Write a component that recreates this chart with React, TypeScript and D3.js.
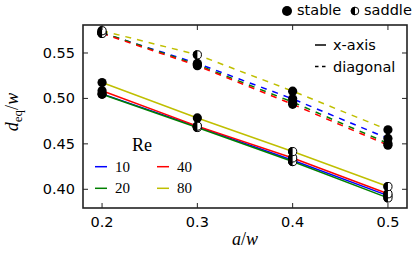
import React, { useRef, useEffect } from 'react';
import * as d3 from 'd3';

const AW = [0.2, 0.3, 0.4, 0.5];
const RE_LABELS = ['10', '20', '40', '80'];
const RE_COLORS = ['#0000ff', '#008000', '#ff0000', '#bfbf00'];

// x-axis (solid) equilibrium positions, per Re
const XAXIS_10 = [0.505, 0.469, 0.432, 0.393];
const XAXIS_20 = [0.5045, 0.468, 0.4305, 0.3905];
const XAXIS_40 = [0.5085, 0.4695, 0.4345, 0.395];
const XAXIS_80 = [0.5175, 0.4785, 0.4415, 0.403];

// diagonal (dashed) equilibrium positions, per Re
const DIAG_10 = [0.572, 0.5385, 0.4995, 0.456];
const DIAG_20 = [0.5725, 0.537, 0.496, 0.4505];
const DIAG_40 = [0.5715, 0.536, 0.4935, 0.4485];
const DIAG_80 = [0.5745, 0.548, 0.508, 0.4655];

// 1 = stable, 0 = saddle
const XAXIS_STABLE = [
  [1, 0, 0, 0],
  [1, 0, 0, 0],
  [1, 0, 0, 0],
  [1, 1, 0, 0],
];
const DIAG_STABLE = [
  [0, 1, 1, 1],
  [0, 1, 1, 1],
  [0, 1, 1, 1],
  [0, 0, 1, 1],
];

const X_TICKS = [0.2, 0.3, 0.4, 0.5];
const Y_TICKS = [0.4, 0.45, 0.5, 0.55];

const App: React.FC = () => {
  const svgRef = useRef<SVGSVGElement>(null);

  useEffect(() => {
    if (!svgRef.current) return;
    const svg = d3.select(svgRef.current);
    svg.selectAll('*').remove();

    const left = 83, right = 407, top = 25, bottom = 208;
    const x = d3.scaleLinear().domain([0.18, 0.52]).range([left, right]);
    const y = d3.scaleLinear().domain([0.3794, 0.5808]).range([bottom, top]);

    const sans = 'DejaVu Sans, sans-serif';
    const serif = 'Liberation Serif, DejaVu Serif, serif';
    const r = 4.6;

    const xSeries = [XAXIS_10, XAXIS_20, XAXIS_40, XAXIS_80];
    const dSeries = [DIAG_10, DIAG_20, DIAG_40, DIAG_80];

    const line = d3.line<number>().x((_, i) => x(AW[i])).y(d => y(d));

    const g = svg.append('g');

    // lines
    dSeries.forEach((s, k) => {
      g.append('path').datum(s).attr('d', line).attr('fill', 'none')
        .attr('stroke', RE_COLORS[k]).attr('stroke-width', 1.5).attr('stroke-dasharray', '6,6');
    });
    xSeries.forEach((s, k) => {
      g.append('path').datum(s).attr('d', line).attr('fill', 'none')
        .attr('stroke', RE_COLORS[k]).attr('stroke-width', 1.5);
    });

    const drawMarker = (parent: d3.Selection<SVGGElement, unknown, null, undefined>, cx: number, cy: number, rr: number, stable: boolean) => {
      if (stable) {
        parent.append('circle').attr('cx', cx).attr('cy', cy).attr('r', rr).attr('fill', '#000');
      } else {
        parent.append('circle').attr('cx', cx).attr('cy', cy).attr('r', rr - 0.5)
          .attr('fill', '#fff').attr('stroke', '#000').attr('stroke-width', 1);
        parent.append('path')
          .attr('d', `M${cx},${cy - rr} A${rr},${rr} 0 0 0 ${cx},${cy + rr} Z`)
          .attr('fill', '#000');
      }
    };

    // markers
    xSeries.forEach((s, k) => s.forEach((v, i) => drawMarker(g, x(AW[i]), y(v), r, XAXIS_STABLE[k][i] === 1)));
    dSeries.forEach((s, k) => s.forEach((v, i) => drawMarker(g, x(AW[i]), y(v), r, DIAG_STABLE[k][i] === 1)));

    // frame
    svg.append('rect').attr('x', left).attr('y', top).attr('width', right - left).attr('height', bottom - top)
      .attr('fill', 'none').attr('stroke', '#222').attr('stroke-width', 1.6);

    const tl = 5;
    X_TICKS.forEach(t => {
      const px = x(t);
      svg.append('line').attr('x1', px).attr('x2', px).attr('y1', bottom).attr('y2', bottom - tl).attr('stroke', '#222');
      svg.append('line').attr('x1', px).attr('x2', px).attr('y1', top).attr('y2', top + tl).attr('stroke', '#222');
      svg.append('text').attr('x', px).attr('y', 227).attr('text-anchor', 'middle')
        .attr('font-family', sans).attr('font-size', 14.5).text(d3.format('.1f')(t));
    });
    Y_TICKS.forEach(t => {
      const py = y(t);
      svg.append('line').attr('x1', left).attr('x2', left + tl).attr('y1', py).attr('y2', py).attr('stroke', '#222');
      svg.append('line').attr('x1', right).attr('x2', right - tl).attr('y1', py).attr('y2', py).attr('stroke', '#222');
      svg.append('text').attr('x', 75).attr('y', py + 5).attr('text-anchor', 'end')
        .attr('font-family', sans).attr('font-size', 14.5).text(d3.format('.2f')(t));
    });

    // axis labels
    const xl = svg.append('text').attr('x', (left + right) / 2).attr('y', 245).attr('text-anchor', 'middle')
      .attr('font-family', serif).attr('font-size', 18).attr('font-style', 'italic');
    xl.append('tspan').text('a');
    xl.append('tspan').attr('font-style', 'normal').text('/');
    xl.append('tspan').text('w');

    const yl = svg.append('text').attr('transform', 'translate(18,112) rotate(-90)').attr('text-anchor', 'middle')
      .attr('font-family', serif).attr('font-size', 18).attr('font-style', 'italic');
    yl.append('tspan').text('d');
    yl.append('tspan').attr('font-style', 'normal').attr('font-size', 13).attr('dy', 4).text('eq');
    yl.append('tspan').attr('font-style', 'normal').attr('dy', -4).text('/');
    yl.append('tspan').text('w');

    // top legend: stability
    const lgTop = svg.append('g');
    drawMarker(lgTop, 287, 11, r + 0.4, true);
    lgTop.append('text').attr('x', 297).attr('y', 15).attr('font-family', sans).attr('font-size', 14.5).text('stable');
    drawMarker(lgTop, 355, 11, r - 0.3, false);
    lgTop.append('text').attr('x', 364).attr('y', 15).attr('font-family', sans).attr('font-size', 14.5).text('saddle');

    // line style legend
    svg.append('line').attr('x1', 315).attr('x2', 326).attr('y1', 45).attr('y2', 45).attr('stroke', '#000').attr('stroke-width', 1.5);
    svg.append('text').attr('x', 333).attr('y', 50).attr('font-family', sans).attr('font-size', 14.5).text('x-axis');
    svg.append('line').attr('x1', 315).attr('x2', 326).attr('y1', 66.5).attr('y2', 66.5).attr('stroke', '#000')
      .attr('stroke-width', 1.5).attr('stroke-dasharray', '3.5,3.5');
    svg.append('text').attr('x', 333).attr('y', 71.5).attr('font-family', sans).attr('font-size', 14.5).text('diagonal');

    // Re legend
    svg.append('text').attr('x', 132).attr('y', 150.5).attr('font-family', serif).attr('font-size', 18).text('Re');
    RE_LABELS.forEach((lab, k) => {
      const col = Math.floor(k / 2);
      const row = k % 2;
      const lx = 95 + col * 62;
      const ly = 166.7 + row * 21.6;
      svg.append('line').attr('x1', lx).attr('x2', lx + 12).attr('y1', ly).attr('y2', ly)
        .attr('stroke', RE_COLORS[k]).attr('stroke-width', 1.5);
      svg.append('text').attr('x', lx + 20).attr('y', ly + 5).attr('font-family', serif).attr('font-size', 15).text(lab);
    });
  }, []);

  return (
    <svg ref={svgRef} width={415} height={260}
      style={{ position: 'absolute', left: 0, top: 0, background: '#fff' }} />
  );
};

export default App;
